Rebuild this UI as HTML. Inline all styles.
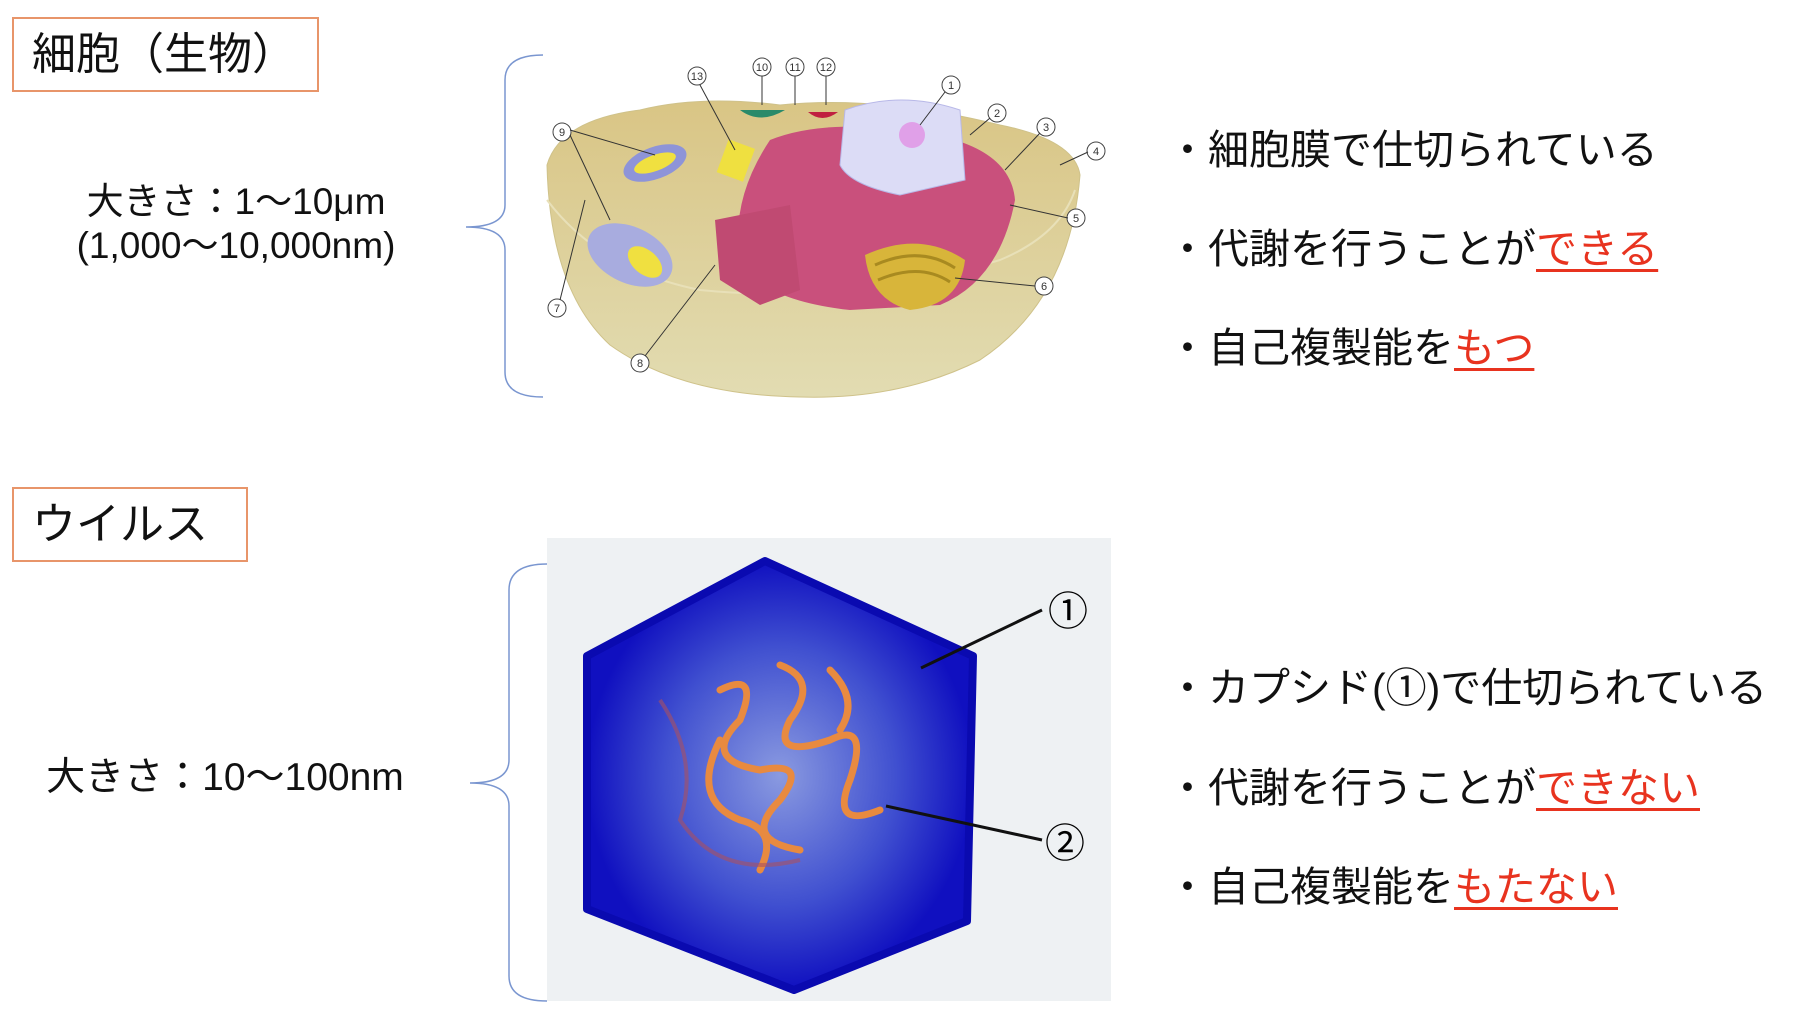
<!DOCTYPE html>
<html><head><meta charset="utf-8"><style>
body{margin:0;width:1796px;height:1014px;background:#fff;position:relative;overflow:hidden;font-family:"Liberation Sans","Noto Sans CJK JP",sans-serif;color:#111}
.box{position:absolute;border:2px solid #e8956a;background:#fff;font-size:44px;line-height:71px;padding-left:18px;box-sizing:border-box}
.t{position:absolute;white-space:nowrap}
.b{font-size:41px;left:1167px}
.r{color:#e8331f;text-decoration:underline;text-decoration-thickness:3px;text-underline-offset:6px}
.s{font-size:37px;text-align:center}
svg{position:absolute;left:0;top:0}
</style></head><body>
<div class="box" style="left:12px;top:17px;width:307px;height:75px">細胞（生物）</div>
<div class="box" style="left:12px;top:487px;width:236px;height:75px">ウイルス</div>
<div class="t s" style="left:36px;top:180px;width:400px;line-height:44px">大きさ：1〜10μm<br>(1,000〜10,000nm)</div>
<div class="t s" style="left:25px;top:746px;width:400px;font-size:39px">大きさ：10〜100nm</div>
<div class="t b" style="top:116px">・細胞膜で仕切られている</div>
<div class="t b" style="top:215px">・代謝を行うことが<span class="r">できる</span></div>
<div class="t b" style="top:314px">・自己複製能を<span class="r">もつ</span></div>
<div class="t b" style="top:654px">・カプシド(①)で仕切られている</div>
<div class="t b" style="top:754px">・代謝を行うことが<span class="r">できない</span></div>
<div class="t b" style="top:853px">・自己複製能を<span class="r">もたない</span></div>
<svg width="1796" height="1014" viewBox="0 0 1796 1014">
<defs>
<radialGradient id="vg" cx="0.5" cy="0.5" r="0.5"><stop offset="0" stop-color="#8a9ae0"/><stop offset="0.6" stop-color="#4050d0"/><stop offset="1" stop-color="#1010c0"/></radialGradient>
<linearGradient id="cg" x1="0" y1="0" x2="0" y2="1"><stop offset="0" stop-color="#d9c585"/><stop offset="1" stop-color="#e2dcb2"/></linearGradient>
</defs>
<g fill="none" stroke="#7a96d0" stroke-width="1.5">
<path d="M543 55 Q505 55 505 80 L505 205 Q505 227 466 227 Q505 227 505 250 L505 372 Q505 397 543 397"/>
<path d="M547 564 Q509 564 509 590 L509 760 Q509 783 470 783 Q509 783 509 806 L509 976 Q509 1001 547 1001"/>
</g>
<path d="M547 165 Q560 120 640 110 Q700 95 780 105 Q880 95 1000 125 Q1075 140 1080 175 Q1070 300 980 360 Q900 400 800 397 Q680 395 610 345 Q550 290 547 165Z" fill="url(#cg)" stroke="#cfc28a"/>
<path d="M547 200 Q600 270 700 290 Q850 305 1000 260 Q1060 235 1075 190" fill="none" stroke="#e8e0b8" stroke-width="2"/>
<path d="M770 140 Q820 120 900 130 Q1010 140 1015 200 Q1000 280 940 305 L850 310 Q760 300 740 260 Q730 200 770 140Z" fill="#c9507c"/>
<path d="M715 220 L790 205 L800 290 L760 305 L720 280Z" fill="#c04a72"/>
<path d="M845 110 Q900 90 960 110 L965 180 L900 195 Q850 185 840 165Z" fill="#dcdcf6" stroke="#b8b8e8"/>
<circle cx="912" cy="135" r="13" fill="#e0a0e8"/>
<path d="M865 255 Q920 230 965 260 Q960 305 910 310 Q870 300 865 255Z" fill="#d8b53a"/>
<path d="M875 265 Q920 245 955 268 M878 280 Q920 262 950 282" stroke="#a88a20" fill="none" stroke-width="3"/>
<ellipse cx="655" cy="163" rx="33" ry="16" fill="#8e94d8" transform="rotate(-20 655 163)"/>
<ellipse cx="655" cy="163" rx="22" ry="8" fill="#f0e040" transform="rotate(-20 655 163)"/>
<ellipse cx="630" cy="255" rx="45" ry="28" fill="#a8acdf" transform="rotate(25 630 255)"/>
<ellipse cx="645" cy="262" rx="20" ry="12" fill="#f0e040" transform="rotate(40 645 262)"/>
<rect x="722" y="143" width="28" height="35" fill="#efe040" transform="rotate(20 736 160)"/>
<path d="M740 110 Q760 125 785 110Z" fill="#2a8a6a"/><path d="M808 112 Q822 124 838 112Z" fill="#c02040"/>
<g fill="#fff" stroke="#444">
<circle cx="951" cy="85" r="9"/><circle cx="997" cy="113" r="9"/><circle cx="1046" cy="127" r="9"/><circle cx="1096" cy="151" r="9"/><circle cx="1076" cy="218" r="9"/><circle cx="1044" cy="286" r="9"/><circle cx="557" cy="308" r="9"/><circle cx="640" cy="363" r="9"/><circle cx="562" cy="132" r="9"/><circle cx="762" cy="67" r="9"/><circle cx="795" cy="67" r="9"/><circle cx="826" cy="67" r="9"/><circle cx="697" cy="76" r="9"/>
</g>
<g font-size="11" font-family="Liberation Sans" text-anchor="middle" fill="#333">
<text x="951" y="89">1</text><text x="997" y="117">2</text><text x="1046" y="131">3</text><text x="1096" y="155">4</text><text x="1076" y="222">5</text><text x="1044" y="290">6</text><text x="557" y="312">7</text><text x="640" y="367">8</text><text x="562" y="136">9</text><text x="762" y="71">10</text><text x="795" y="71">11</text><text x="826" y="71">12</text><text x="697" y="80">13</text>
</g>
<g stroke="#333" stroke-width="1"><path d="M945 92 L920 125 M990 118 L970 135 M1040 133 L1005 170 M1088 152 L1060 165 M1068 218 L1010 205 M1035 286 L955 278 M560 300 L585 200 M645 356 L715 265 M570 130 L655 155 M570 135 L610 220 M762 76 L762 105 M795 76 L795 105 M826 76 L826 105 M700 85 L735 150"/></g>
<rect x="547" y="538" width="564" height="463" fill="#eef1f3"/>
<polygon points="765,561 973,656 967,921 794,990 587,909 587,656" fill="url(#vg)" stroke="#0a0ab0" stroke-width="8" stroke-linejoin="round"/>
<path d="M720 690 Q760 670 740 720 Q700 760 760 770 Q810 760 780 800 Q740 840 800 850 M780 665 Q820 680 790 720 Q770 760 830 740 Q870 720 850 780 Q830 830 880 810 M830 670 Q860 700 840 730 M720 740 Q690 800 740 820 Q780 830 760 870" fill="none" stroke="#e88a40" stroke-width="7" stroke-linecap="round"/>
<path d="M660 700 Q700 760 680 820 Q720 880 800 860" fill="none" stroke="#a85060" stroke-width="4" opacity="0.6"/>
<path d="M921 668 L1042 610 M886 806 L1042 840" stroke="#111" stroke-width="3"/>
<text x="1068" y="625" font-size="40" text-anchor="middle" font-family="Liberation Sans,Noto Sans CJK JP">①</text>
<text x="1065" y="857" font-size="40" text-anchor="middle" font-family="Liberation Sans,Noto Sans CJK JP">②</text>
</svg>
</body></html>
